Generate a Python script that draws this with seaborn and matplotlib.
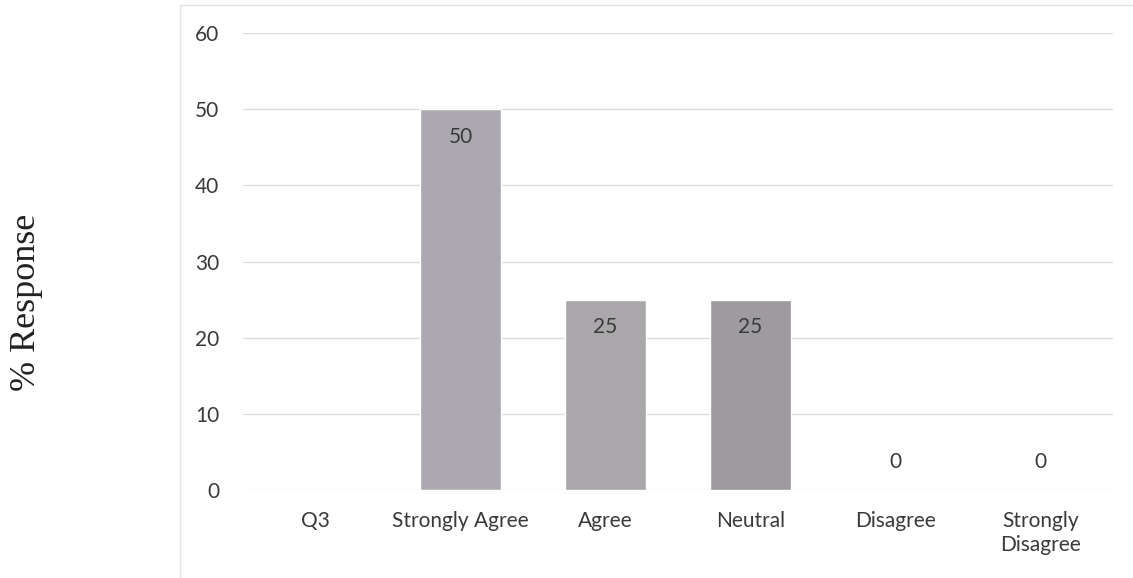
import numpy as np
import pandas as pd

import matplotlib
matplotlib.use("Agg")
import matplotlib.pyplot as plt
import seaborn as sns
from matplotlib.patches import Rectangle


# ### Data
categories = ["Q3", "Strongly Agree", "Agree", "Neutral", "Disagree", "Strongly\nDisagree"]
responses = [np.nan, 50, 25, 25, 0, 0]
y_ticks = [0, 10, 20, 30, 40, 50, 60]

df = pd.DataFrame({"Category": categories, "Response": responses})

# ### Styling
sns.set_style("white")
plt.rcParams["font.family"] = ["Lato", "DejaVu Sans"]

bar_colors = ["#ffffff", "#aba7b0", "#aaa6aa", "#9d9aa1", "#9d9aa1", "#9d9aa1"]
text_color = "#3a3a3a"
grid_color = "#dcdcdc"
font_size = 15

fig = plt.figure(figsize=(11.33, 5.78), dpi=100)
ax = fig.add_axes([0.2145, 0.152, 0.7675, 0.791])

# Paint the bars (Q3 has no value, so nothing gets drawn there)
sns.barplot(x="Category", y="Response", hue="Category", data=df, order=categories,
            palette=bar_colors, legend=False, width=0.56, ax=ax, zorder=3)

ax.set_ylim(0, 60)
ax.set_yticks(y_ticks)
ax.yaxis.grid(True, color=grid_color, linewidth=1, zorder=0)
ax.xaxis.grid(False)
sns.despine(ax=ax, left=True, bottom=True)

ax.tick_params(axis="y", length=0, pad=17, labelsize=font_size, labelcolor=text_color)
ax.tick_params(axis="x", length=0, pad=15, labelsize=font_size, labelcolor=text_color)
for lbl in ax.get_xticklabels():
    lbl.set_verticalalignment("top")
    lbl.set_linespacing(1.25)

ax.set_xlabel("")
ax.set_ylabel("")

# Value labels: inside the top of the bar, or just above the baseline for zeros
for i, v in enumerate(responses):
    if np.isnan(v):
        continue
    offset = -20 if v > 0 else 20
    ax.annotate(f"{v:g}", (i, v), xytext=(0, offset), textcoords="offset points",
                ha="center", va="center", fontsize=font_size, color=text_color, zorder=4)

# Y axis title sits out on the left, in a serif face
fig.text(0.023, 0.477, "% Response", rotation=90, ha="center", va="center",
         fontsize=26, family=["Liberation Serif", "DejaVu Serif"], color="#222222")

# Faint chart frame
fig.patches.append(Rectangle((180 / 1133, -0.01), 1.0, 1 - 5 / 578 + 0.01,
                             transform=fig.transFigure, fill=False,
                             edgecolor="#e4e4e4", linewidth=1))

fig.savefig("out.png", dpi=100, facecolor="white")
